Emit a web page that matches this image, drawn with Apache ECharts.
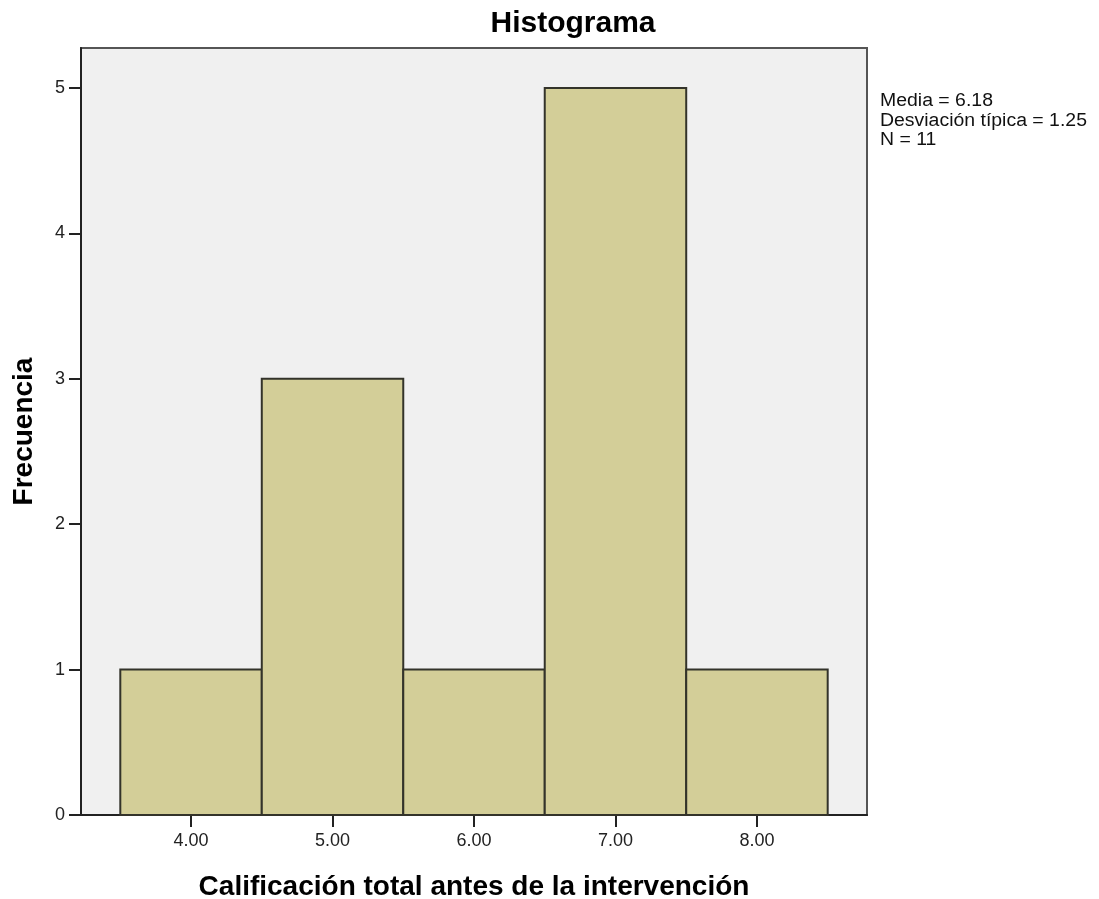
<!DOCTYPE html>
<html>
<head>
<meta charset="utf-8">
<script src="https://cdn.jsdelivr.net/npm/echarts@6/dist/echarts.min.js"></script>
<style>
html,body{margin:0;padding:0;background:#fff;}
#c{width:1099px;height:899px;}
</style>
</head>
<body>
<div id="c"></div>
<script>
var binStarts = [3.5, 4.5, 5.5, 6.5, 7.5];
var binEnds = [4.5, 5.5, 6.5, 7.5, 8.5];
var counts = [1, 3, 1, 5, 1];
var xTicks = [4, 5, 6, 7, 8];
var yTicks = [0, 1, 2, 3, 4, 5];
var statsLines = ['Media = 6.18', 'Desviación típica = 1.25', 'N = 11'];

var data = binStarts.map(function (s, i) { return [s, binEnds[i], counts[i]]; });
var FONT = '"Liberation Sans", Arial, sans-serif';

var chart = echarts.init(document.getElementById('c'));
var graphics = [{
  type: 'text', x: 573, y: 24,
  style: { text: 'Histograma', font: 'bold 30px ' + FONT, fill: '#000', align: 'center', verticalAlign: 'middle' }
}];
statsLines.forEach(function (t, i) {
  graphics.push({
    type: 'text', x: 880, y: 101.5 + i * 19.3, scaleX: 1.08,
    style: { text: t, font: '18px ' + FONT, fill: '#111', align: 'left', verticalAlign: 'middle' }
  });
});

chart.setOption({
  animation: false,
  backgroundColor: '#ffffff',
  grid: {
    left: 81, right: 232, top: 48, bottom: 84,
    outerBoundsMode: 'none', containLabel: false,
    show: true, backgroundColor: '#f0f0f0', borderColor: '#555', borderWidth: 2
  },
  xAxis: {
    type: 'value', min: 3.2222, max: 8.7778,
    name: 'Calificación total antes de la intervención',
    nameLocation: 'middle', nameGap: 58,
    nameTextStyle: { fontFamily: FONT, fontSize: 28, fontWeight: 'bold', color: '#000' },
    axisLine: { show: true, lineStyle: { color: '#222', width: 2 } },
    axisTick: { show: true, length: 12, customValues: xTicks, lineStyle: { color: '#222', width: 2 } },
    axisLabel: { customValues: xTicks, fontFamily: FONT, fontSize: 18, color: '#222', margin: 17,
      formatter: function (v) { return v.toFixed(2); } },
    splitLine: { show: false }
  },
  yAxis: {
    type: 'value', min: 0, max: 5.275,
    name: 'Frecuencia', nameLocation: 'middle', nameGap: 43, nameRotate: 90,
    nameTextStyle: { fontFamily: FONT, fontSize: 28, fontWeight: 'bold', color: '#000' },
    axisLine: { show: true, lineStyle: { color: '#222', width: 2 } },
    axisTick: { show: true, length: 12, customValues: yTicks, lineStyle: { color: '#222', width: 2 } },
    axisLabel: { customValues: yTicks, fontFamily: FONT, fontSize: 18, color: '#222', margin: 16 },
    splitLine: { show: false }
  },
  graphic: graphics,
  series: [{
    type: 'custom',
    data: data,
    encode: { x: [0, 1], y: 2 },
    renderItem: function (params, api) {
      var p0 = api.coord([api.value(0), api.value(2)]);
      var p1 = api.coord([api.value(1), 0]);
      return {
        type: 'rect',
        shape: { x: p0[0], y: p0[1], width: p1[0] - p0[0], height: p1[1] - p0[1] },
        style: { fill: '#d3ce98', stroke: '#33332a', lineWidth: 2 }
      };
    }
  }]
});
</script>
</body>
</html>
